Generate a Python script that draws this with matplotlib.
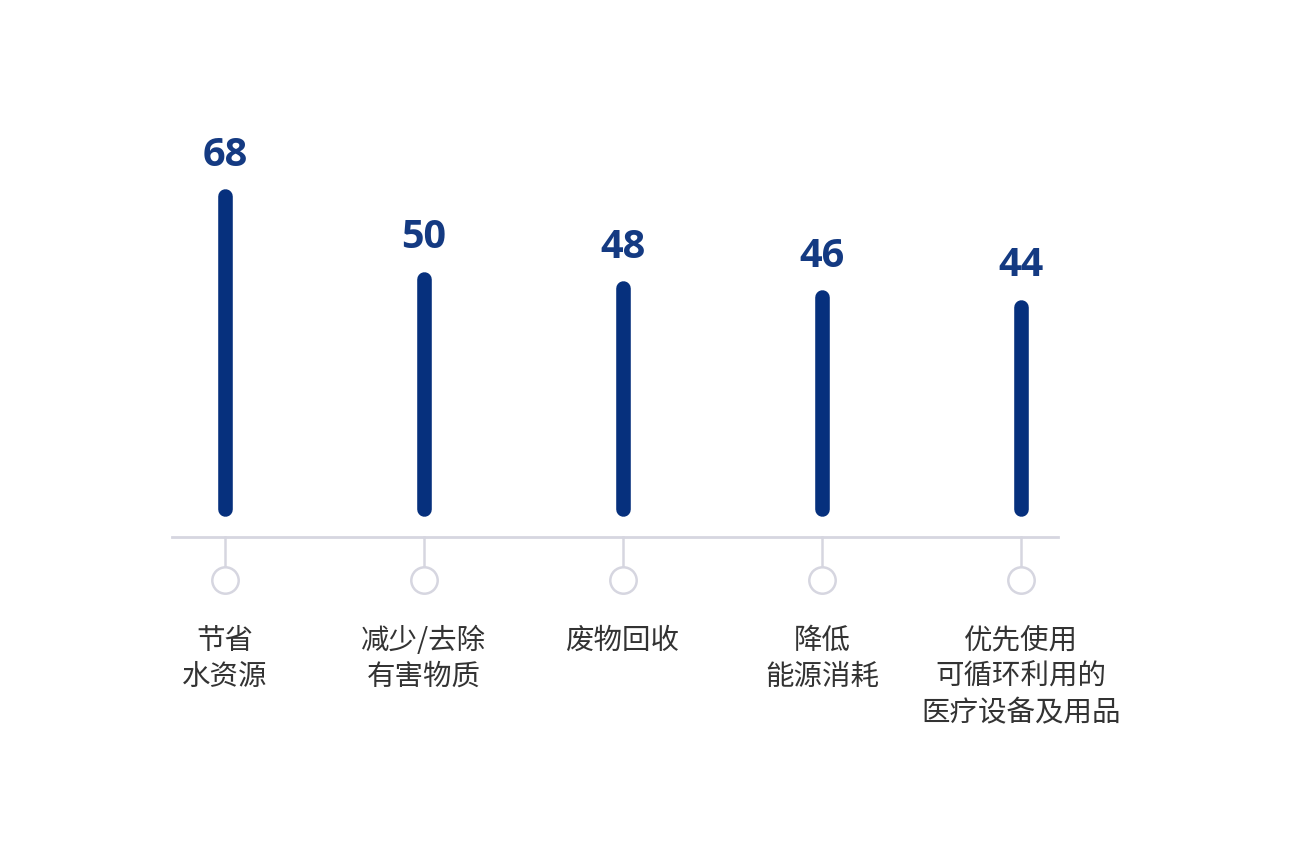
import matplotlib.pyplot as plt

categories = [
    "节省\n水资源",
    "减少/去除\n有害物质",
    "废物回收",
    "降低\n能源消耗",
    "优先使用\n可循环利用的\n医疗设备及用品",
]
values = [68, 50, 48, 46, 44]

BAR_COLOR = "#06307d"
VALUE_COLOR = "#143a82"
AXIS_GRAY = "#d6d6e0"
LABEL_COLOR = "#333333"

plt.rcParams["font.family"] = ["Noto Sans CJK SC", "DejaVu Sans"]


def plot_lollipop():
    fig = plt.figure(figsize=(12.9, 8.6), dpi=100, facecolor="white")
    ax = fig.add_axes([0, 0, 1, 1])
    ax.set_xlim(-1.1307, 5.3518)
    ax.set_ylim(-76.3, 110.65)
    ax.axis("off")

    xs = list(range(len(values)))

    # bars as thick rounded lines
    for x, v in zip(xs, values):
        ax.plot([x, x], [0, v], color=BAR_COLOR, lw=10.5,
                solid_capstyle="round", zorder=3)
        ax.annotate(str(v), (x, v), xytext=(0, 15.5), textcoords="offset points",
                    ha="center", va="bottom", fontsize=28.5, color=VALUE_COLOR,
                    family=["Open Sans", "DejaVu Sans"], fontweight="bold")

    # baseline with stems and hollow circles
    base_y = -6.1
    ax.plot([-0.266, 4.186], [base_y, base_y], color=AXIS_GRAY, lw=2, zorder=1)
    for x, label in zip(xs, categories):
        ax.plot([x, x], [base_y, -12.6], color=AXIS_GRAY, lw=1.8, zorder=1)
        ax.plot(x, -15.4, marker="o", markersize=19, markerfacecolor="white",
                markeredgecolor=AXIS_GRAY, markeredgewidth=1.8, zorder=2)
        ax.text(x, -25.4, label, ha="center", va="top", fontsize=20.5,
                color=LABEL_COLOR, linespacing=1.27)

    fig.savefig("out.png", dpi=100, facecolor="white")
    plt.close(fig)


if __name__ == "__main__":
    plot_lollipop()
